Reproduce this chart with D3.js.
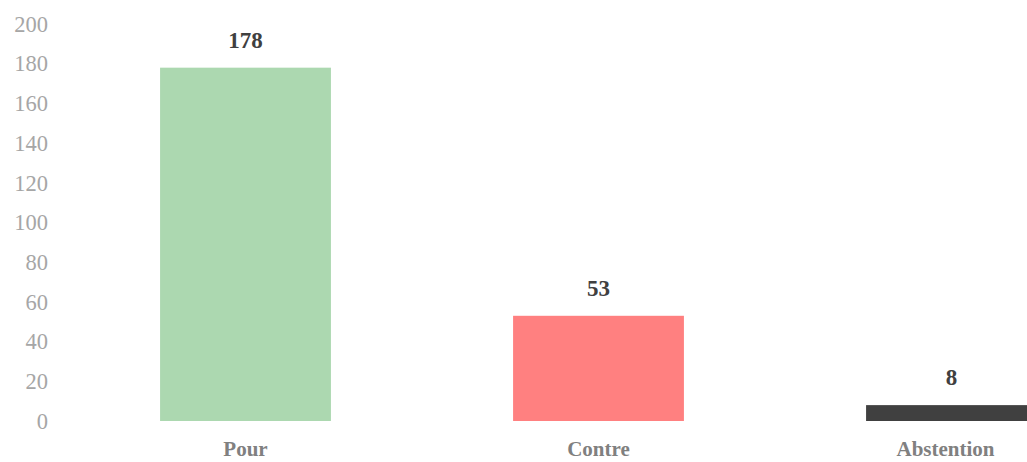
<!DOCTYPE html>
<html>
<head>
<meta charset="utf-8">
<script src="https://cdn.jsdelivr.net/npm/d3@7"></script>
<style>
  body { margin: 0; background: #fff; }
  text { font-family: "Liberation Serif", "DejaVu Serif", serif; }
</style>
</head>
<body>
<script>
var categories = ["Pour", "Contre", "Abstention"];
var votes = [178, 53, 8];
var barColors = ["#acd8b0", "#ff8080", "#404040"];
var yTicks = [0, 20, 40, 60, 80, 100, 120, 140, 160, 180, 200];

var width = 1027, height = 462;

var svg = d3.select("body").append("svg")
    .attr("width", width)
    .attr("height", height);

var x = d3.scaleBand()
    .domain(categories)
    .range([69, 1128])
    .paddingInner(0.516)
    .paddingOuter(0.258);

var y = d3.scaleLinear()
    .domain([0, 200])
    .range([421, 24]);

// y axis labels only, no line
var yAxis = svg.append("g")
    .attr("transform", "translate(48,0)")
    .call(d3.axisLeft(y).tickValues(yTicks).tickSize(0).tickPadding(0));
yAxis.select(".domain").remove();
yAxis.selectAll("text")
    .attr("fill", "#a6a6a6")
    .style("font-size", "22.5px");

svg.selectAll("rect.bar")
    .data(votes)
    .enter()
        .append("rect")
        .attr("class", "bar")
        .attr("x", function(d, i) { return x(categories[i]); })
        .attr("width", x.bandwidth())
        .attr("y", function(d) { return y(d); })
        .attr("height", function(d) { return y(0) - y(d); })
        .attr("fill", function(d, i) { return barColors[i]; });

svg.selectAll("text.val")
    .data(votes)
    .enter()
        .append("text")
        .attr("class", "val")
        .attr("x", function(d, i) { return x(categories[i]) + x.bandwidth() / 2; })
        .attr("y", function(d) { return y(d) - 20; })
        .attr("text-anchor", "middle")
        .attr("fill", "#404040")
        .style("font-size", "23px")
        .style("font-weight", "bold")
        .text(function(d) { return d; });

svg.selectAll("text.cat")
    .data(categories)
    .enter()
        .append("text")
        .attr("class", "cat")
        .attr("x", function(d) { return x(d) + x.bandwidth() / 2 - (d == "Abstention" ? 6 : 0); })
        .attr("y", 456)
        .attr("text-anchor", "middle")
        .attr("fill", "#808080")
        .style("font-size", "21px")
        .style("font-weight", "bold")
        .text(function(d) { return d; });
</script>
</body>
</html>
